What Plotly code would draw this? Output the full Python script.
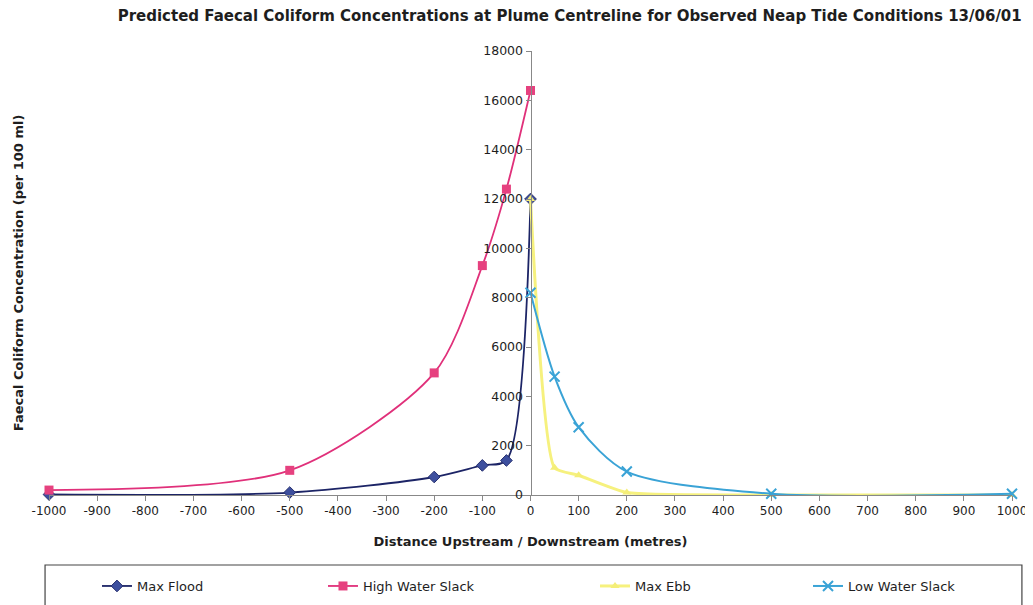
import plotly.graph_objects as go

# ---- data ----
flood_x = [-1000, -500, -200, -100, -50, 0]
flood_y = [20, 100, 730, 1200, 1400, 12000]

hws_x = [-1000, -500, -200, -100, -50, 0]
hws_y = [200, 1000, 4950, 9300, 12400, 16400]

ebb_x = [0, 50, 100, 200, 500, 1000]
ebb_y = [12000, 1100, 800, 100, 0, 0]

lws_x = [0, 50, 100, 200, 500, 1000]
lws_y = [8200, 4800, 2750, 950, 50, 50]

x_ticks = list(range(-1000, 1001, 100))
y_ticks = list(range(0, 18001, 2000))

FONT = "DejaVu Sans, sans-serif"
INK = "#1e1e1e"

fig = go.Figure()
fig.add_trace(go.Scatter(
    x=flood_x, y=flood_y, name="Max Flood", mode="lines+markers",
    line=dict(color="#1c2466", width=1.8, shape="spline", smoothing=0.8),
    marker=dict(symbol="diamond", size=9, color="#3d4f9e", line=dict(color="#27306f", width=1)),
    cliponaxis=False, legend="legend"))
fig.add_trace(go.Scatter(
    x=hws_x, y=hws_y, name="High Water Slack", mode="lines+markers",
    line=dict(color="#e0307a", width=1.8, shape="spline", smoothing=0.8),
    marker=dict(symbol="square", size=9, color="#e6417f"),
    cliponaxis=False, legend="legend2"))
fig.add_trace(go.Scatter(
    x=ebb_x, y=ebb_y, name="Max Ebb", mode="lines+markers",
    line=dict(color="#f6f17e", width=3, shape="spline", smoothing=0.5),
    marker=dict(symbol="triangle-up", size=8, color="#f4ee78"),
    cliponaxis=False, legend="legend3"))
fig.add_trace(go.Scatter(
    x=lws_x, y=lws_y, name="Low Water Slack", mode="lines+markers",
    line=dict(color="#3aa3d6", width=2, shape="spline", smoothing=0.8),
    marker=dict(symbol="x-thin", size=10, color="#3aa3d6", line=dict(color="#3aa3d6", width=2)),
    cliponaxis=False, legend="legend4"))

legend_common = dict(orientation="h", yanchor="middle", xanchor="left",
                     xref="container", yref="container",
                     bgcolor="rgba(0,0,0,0)", borderwidth=0,
                     font=dict(family=FONT, size=13, color=INK))
ly = 0.0318
fig.update_layout(
    showlegend=True,
    legend=dict(x=0.0868, y=ly, **legend_common),
    legend2=dict(x=0.3073, y=ly, **legend_common),
    legend3=dict(x=0.5727, y=ly, **legend_common),
    legend4=dict(x=0.7805, y=ly, **legend_common),
)

# page body has an 8px margin, so the figure is sized to fit inside the window
fig.update_layout(
    width=1025, height=597,
    margin=dict(l=41, r=21, t=43, b=110),
    paper_bgcolor="white", plot_bgcolor="white",
    font=dict(family=FONT, size=12, color=INK),
    title=dict(text="<b>Predicted Faecal Coliform Concentrations at Plume Centreline for Observed Neap Tide Conditions 13/06/01</b>",
               x=0.548, xanchor="center", y=0.9866, yanchor="middle",
               font=dict(family=FONT, size=15, color=INK)),
    xaxis=dict(range=[-1000, 1000], tickvals=x_ticks, ticktext=[str(v) for v in x_ticks],
               ticks="outside", ticklen=5, tickcolor="#888", showline=True, linecolor="#888",
               showgrid=False, zeroline=False, tickfont=dict(size=12), automargin=False,
               ticklabelstandoff=0,
               title=dict(text="<b>Distance Upstream / Downstream (metres)</b>",
                          font=dict(size=13), standoff=19)),
    yaxis=dict(range=[0, 18000], tickvals=y_ticks, ticktext=[str(v) for v in y_ticks],
               anchor="free", position=0.5, ticks="outside", ticklen=5, tickcolor="#888",
               showline=True, linecolor="#888", showgrid=False, zeroline=False,
               tickfont=dict(size=12.5), automargin=False),
    annotations=[dict(text="<b>Faecal Coliform Concentration (per 100 ml)</b>",
                      xref="paper", yref="paper", x=-0.032, y=0.5, textangle=-90,
                      showarrow=False, xanchor="center", yanchor="middle",
                      font=dict(family=FONT, size=13, color=INK))],
    shapes=[dict(type="rect", xref="paper", yref="paper", x0=-0.0041, x1=1.0103,
                 y0=-0.32, y1=-0.1577, line=dict(color="#444", width=1.2), fillcolor="rgba(0,0,0,0)")],
)

fig.write_html("out.html")
